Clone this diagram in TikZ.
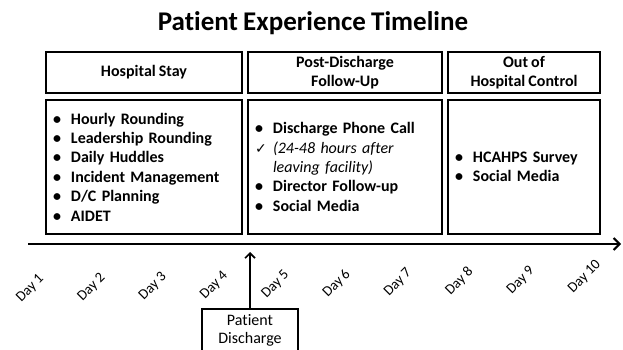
\documentclass[tikz,border=0pt]{standalone}
\usepackage{fontspec}
\setmainfont{Carlito}[Ligatures=NoCommon, WordSpace={0.85,0,0}]
\newfontfamily\symfont{DejaVu Sans}
\usetikzlibrary{positioning}
\usetikzlibrary{arrows.meta}

\newcommand{\itm}{\makebox[18pt][l]{\textbullet}}
\newcommand{\chk}{\makebox[18pt][l]{{\symfont\fontsize{14}{14}\selectfont ✓}}}

\begin{document}
\begin{tikzpicture}
  [x=1pt, y=-1pt,
   every node/.style = {font=\fontsize{16}{19.4}\selectfont\bfseries},
   head/.style = {draw, line width=1.5pt, minimum height=41pt, align=center},
   body/.style = {draw, line width=1.5pt, minimum height=134pt, align=left, inner xsep=7pt},
   daylbl/.style = {font=\fontsize{14.5}{14.5}\selectfont, rotate=45, anchor=west, inner sep=0pt},
   dischbox/.style = {draw, line width=1.5pt, minimum width=96pt, minimum height=44pt,
                      align=center, font=\fontsize{16}{18}\selectfont},
   timeline/.style = {line width=2.5pt, -{Straight Barb[length=6pt, width=12pt, line width=2pt]}},
   uparrow/.style = {line width=1.8pt, -{Straight Barb[length=5pt, width=10pt, line width=1.6pt]}}]
  \useasboundingbox (0,0) rectangle (623,350);
  \clip (0,0) rectangle (623,350);

  \node (title) at (313,23) [font=\fontsize{27}{32}\selectfont\bfseries] {Patient Experience Timeline};

  \node (hstay) at (144,72.5) [head, minimum width=196pt] {Hospital Stay};
  \node (post) [head, minimum width=194pt, right=4.5pt of hstay] {Post-Discharge\\Follow-Up};
  \node (out) [head, minimum width=152pt, right=4.5pt of post] {Out of\\Hospital Control};

  \node (hbody) [body, text width=182pt, below=5.5pt of hstay]
    {\itm Hourly Rounding\\
     \itm Leadership Rounding\\
     \itm Daily Huddles\\
     \itm Incident Management\\
     \itm D/C Planning\\
     \itm AIDET};
  \node (pbody) [body, text width=180pt, below=5.5pt of post]
    {\itm Discharge Phone Call\\
     \chk{\mdseries\itshape (24-48 hours after}\\
     \hspace*{18pt}{\mdseries\itshape leaving facility)}\\
     \itm Director Follow-up\\
     \itm Social Media};
  \node (obody) [body, text width=138pt, below=5.5pt of out]
    {\itm HCAHPS Survey\\
     \itm Social Media};

  \coordinate (tl0) at (28,244);
  \coordinate (tl1) at (621,244);
  \draw [timeline] (tl0) -- (tl1);

  \foreach \i in {1,...,10}
    \node (d\i) at ({18.7+61.3*(\i-1)}, {300.3-1.03*(\i-1)}) [daylbl] {Day \i};

  \node (disch) at (250,308) [dischbox, anchor=north] {Patient\\Discharge};
  \coordinate (dtip) at (250,252);
  \draw [uparrow] (disch) -- (dtip);
\end{tikzpicture}
\end{document}
